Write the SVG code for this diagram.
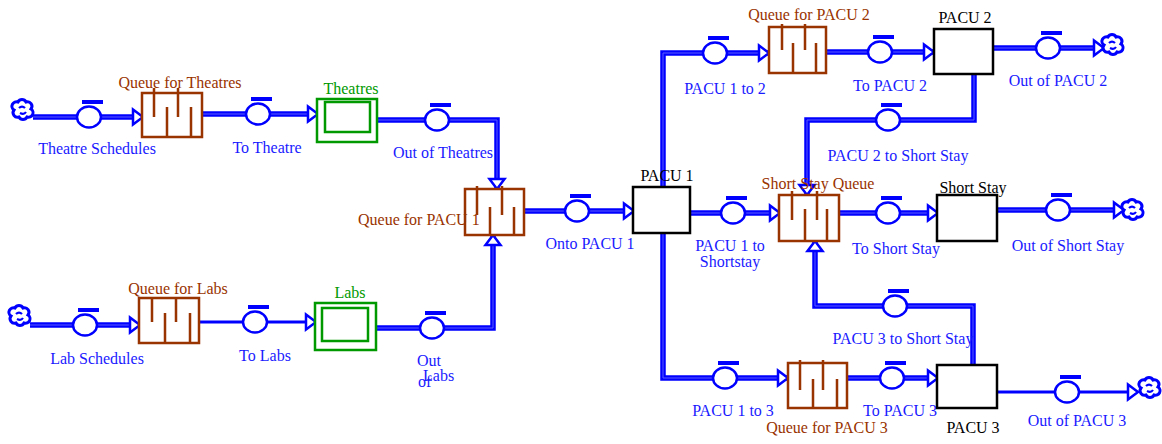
<svg xmlns="http://www.w3.org/2000/svg" width="1162" height="444" viewBox="0 0 1162 444">
<style>
text{font-family:"Liberation Serif","Times New Roman",serif;font-size:16px}
.bl{fill:#1a1aff}.br{fill:#993300}.gr{fill:#009900}.bk{fill:#000}
.m{text-anchor:middle}
.pipe{fill:none;stroke:#0000ff;stroke-width:5.5}
.pin{fill:none;stroke:#5c5cff;stroke-width:1}
.thin{fill:none;stroke:#0000ff;stroke-width:3}
.arrow{fill:#fff;stroke:#0000ff;stroke-width:2.5;stroke-linejoin:miter}
.valve{fill:#fff;stroke:#0000ff;stroke-width:2.5}
.bar{fill:#0000ff}
.queue{fill:#fff;stroke:#993300;stroke-width:2.5}
.qbar{stroke:#993300;stroke-width:2.5}
.stock{fill:#fff;stroke:#009900;stroke-width:2.5}
.box{fill:#fff;stroke:#000;stroke-width:2.5}
.cloud{fill:#fff;stroke:#0000ff;stroke-width:3}
</style>
<defs>
<path id="arr" class="arrow" d="M-10,-7.5 L0,0 L-10,7.5 Z"/>
<g id="valve"><ellipse class="valve" cx="0" cy="0" rx="12" ry="10.5"/><rect class="bar" x="-7" y="-17" width="21" height="4"/></g>
<g id="cloud"><path class="cloud" d="M-5,-8 a4.5,4.5 0 0 1 8,0 a4.5,4.5 0 0 1 5,7 a4.5,4.5 0 0 1 -4,8 a4.5,4.5 0 0 1 -8,0 a4.5,4.5 0 0 1 -5,-7 a4.5,4.5 0 0 1 4,-8z"/><path d="M-4,-2 q3,-3 6,0 M-3,3 q4,2 6,-1" fill="none" stroke="#0000ff" stroke-width="2.2"/></g>
</defs>

<g id="connectors">
<g id="p-theatre-schedules"><polyline class="pipe" points="33,117 142,117"/><polyline class="pin" points="33,117 136,117"/><use href="#arr" transform="translate(143,117)"/><use href="#valve" transform="translate(89,117)"/></g>
<g id="p-to-theatre"><polyline class="pipe" points="202,114 317,114"/><polyline class="pin" points="202,114 311,114"/><use href="#arr" transform="translate(318,114)"/><use href="#valve" transform="translate(258,114)"/></g>
<g id="p-out-theatres"><polyline class="pipe" points="377,120 497,120 497,189"/><polyline class="pin" points="377,120 497,120 497,183"/><use href="#arr" transform="translate(497,189) rotate(90)"/><use href="#valve" transform="translate(437,120)"/></g>
<g id="p-lab-schedules"><polyline class="pipe" points="30,325 139,325"/><polyline class="pin" points="30,325 133,325"/><use href="#arr" transform="translate(140,325)"/><use href="#valve" transform="translate(85,325)"/></g>
<g id="p-to-labs"><polyline class="thin" points="199,322 315,322"/><use href="#arr" transform="translate(316,322)"/><use href="#valve" transform="translate(255,322)"/></g>
<g id="p-out-labs"><polyline class="pipe" points="376,328 493,328 493,235"/><polyline class="pin" points="376,328 493,328 493,241"/><use href="#arr" transform="translate(493,235) rotate(-90)"/><use href="#valve" transform="translate(432,328)"/></g>
<g id="p-onto-pacu1"><polyline class="pipe" points="524,211 633,211"/><polyline class="pin" points="524,211 627,211"/><use href="#arr" transform="translate(634,211)"/><use href="#valve" transform="translate(577,211)"/></g>
<g id="p-pacu1-ss"><polyline class="pipe" points="690,213 779,213"/><polyline class="pin" points="690,213 773,213"/><use href="#arr" transform="translate(780,213)"/><use href="#valve" transform="translate(733,213)"/></g>
<g id="p-pacu1-2"><polyline class="pipe" points="663,187 663,53 768,53"/><polyline class="pin" points="663,187 663,53 762,53"/><use href="#arr" transform="translate(769,53)"/><use href="#valve" transform="translate(715,53)"/></g>
<g id="p-to-pacu2"><polyline class="pipe" points="826,52 933,52"/><polyline class="pin" points="826,52 927,52"/><use href="#arr" transform="translate(934,52)"/><use href="#valve" transform="translate(880,52)"/></g>
<g id="p-out-pacu2"><polyline class="pipe" points="993,48 1103,48"/><polyline class="pin" points="993,48 1097,48"/><use href="#arr" transform="translate(1104,48)"/><use href="#valve" transform="translate(1048,48)"/></g>
<g id="p-pacu2-ss"><polyline class="pipe" points="974,74 974,120 807,120 807,195"/><polyline class="pin" points="974,74 974,120 807,120 807,189"/><use href="#arr" transform="translate(807,195) rotate(90)"/><use href="#valve" transform="translate(888,120)"/></g>
<g id="p-to-ss"><polyline class="pipe" points="839,213 937,213"/><polyline class="pin" points="839,213 931,213"/><use href="#arr" transform="translate(938,213)"/><use href="#valve" transform="translate(888,213)"/></g>
<g id="p-out-ss"><polyline class="pipe" points="997,210 1123,210"/><polyline class="pin" points="997,210 1117,210"/><use href="#arr" transform="translate(1124,210)"/><use href="#valve" transform="translate(1058,210)"/></g>
<g id="p-pacu3-ss"><polyline class="pipe" points="973,365 973,306 815,306 815,241"/><polyline class="pin" points="973,365 973,306 815,306 815,247"/><use href="#arr" transform="translate(815,241) rotate(-90)"/><use href="#valve" transform="translate(895,306)"/></g>
<g id="p-pacu1-3"><polyline class="pipe" points="663,233 663,378 787,378"/><polyline class="pin" points="663,233 663,378 781,378"/><use href="#arr" transform="translate(788,378)"/><use href="#valve" transform="translate(725,378)"/></g>
<g id="p-to-pacu3"><polyline class="pipe" points="847,378 937,378"/><polyline class="pin" points="847,378 931,378"/><use href="#arr" transform="translate(938,378)"/><use href="#valve" transform="translate(892,378)"/></g>
<g id="p-out-pacu3"><polyline class="thin" points="997,392 1137,392"/><use href="#arr" transform="translate(1138,392)"/><use href="#valve" transform="translate(1067,392)"/></g>
</g>

<g id="clouds">
<use href="#cloud" transform="translate(23,110)"/>
<use href="#cloud" transform="translate(20,316)"/>
<use href="#cloud" transform="translate(1113,45)"/>
<use href="#cloud" transform="translate(1133,210)"/>
<use href="#cloud" transform="translate(1150,388)"/>
</g>

<g id="queue-theatres">
<rect class="queue" x="142" y="93" width="60" height="44"/>
<path class="qbar" d="M154,88V117M178,88V117M167,107V137M191,107V137"/>
</g>
<g id="theatres">
<rect class="stock" x="317" y="99" width="60" height="43"/>
<rect class="stock" x="325" y="102" width="45" height="30"/>
</g>
<g id="queue-labs">
<rect class="queue" x="139" y="298" width="60" height="45"/>
<path class="qbar" d="M152,298V322M176,298V322M165,313V343M190,313V343"/>
</g>
<g id="labs">
<rect class="stock" x="315" y="303" width="61" height="47"/>
<rect class="stock" x="322" y="308" width="46" height="33"/>
</g>
<g id="queue-pacu1">
<rect class="queue" x="465" y="189" width="59" height="46"/>
<path class="qbar" d="M477,186V215M502,186V215M490,207V235M514,207V235"/>
</g>
<g id="pacu1"><rect class="box" x="633" y="187" width="57" height="46"/></g>
<g id="queue-pacu2">
<rect class="queue" x="769" y="27" width="57" height="46"/>
<path class="qbar" d="M782,24V50M805,24V50M793,43V73M816,43V73"/>
</g>
<g id="pacu2"><rect class="box" x="934" y="29" width="59" height="45"/></g>
<g id="short-stay-queue">
<rect class="queue" x="779" y="195" width="60" height="46"/>
<path class="qbar" d="M792,191V220M817,191V220M805,209V241M827,209V241"/>
</g>
<g id="short-stay"><rect class="box" x="937" y="195" width="60" height="46"/></g>
<g id="queue-pacu3">
<rect class="queue" x="788" y="363" width="59" height="45"/>
<path class="qbar" d="M800,360V390M823,360V390M813,379V408M837,379V408"/>
</g>
<g id="pacu3"><rect class="box" x="937" y="365" width="60" height="43"/></g>

<g id="labels">
<text class="br m" x="180" y="88">Queue for Theatres</text>
<text class="bl m" x="97" y="154">Theatre Schedules</text>
<text class="bl m" x="267" y="153">To Theatre</text>
<text class="gr m" x="351" y="94">Theatres</text>
<text class="bl m" x="443" y="158">Out of Theatres</text>
<text class="br" x="358" y="225">Queue for PACU 1</text>
<text class="br m" x="178" y="294">Queue for Labs</text>
<text class="bl m" x="97" y="364">Lab Schedules</text>
<text class="bl m" x="265" y="361">To Labs</text>
<text class="gr m" x="350" y="298">Labs</text>
<text class="bl" x="417" y="366">Out</text>
<text class="bl" x="423" y="381">Labs</text>
<text class="bl" x="418" y="387">of</text>
<text class="bk m" x="667" y="181">PACU 1</text>
<text class="bl m" x="590" y="249">Onto PACU 1</text>
<text class="bl m" x="730" y="251">PACU 1 to</text>
<text class="bl m" x="730" y="267">Shortstay</text>
<text class="br m" x="809" y="20">Queue for PACU 2</text>
<text class="bl m" x="725" y="94">PACU 1 to 2</text>
<text class="bl m" x="890" y="91">To PACU 2</text>
<text class="bk m" x="965" y="23">PACU 2</text>
<text class="bl m" x="1058" y="86">Out of PACU 2</text>
<text class="bl m" x="898" y="161">PACU 2 to Short Stay</text>
<text class="br m" x="818" y="189">Short Stay Queue</text>
<text class="bl m" x="896" y="254">To Short Stay</text>
<text class="bk m" x="973" y="193">Short Stay</text>
<text class="bl m" x="1068" y="251">Out of Short Stay</text>
<text class="bl m" x="903" y="344">PACU 3 to Short Stay</text>
<text class="bl m" x="733" y="416">PACU 1 to 3</text>
<text class="br m" x="827" y="433">Queue for PACU 3</text>
<text class="bl m" x="900" y="416">To PACU 3</text>
<text class="bk m" x="973" y="433">PACU 3</text>
<text class="bl m" x="1077" y="426">Out of PACU 3</text>
</g>
</svg>
